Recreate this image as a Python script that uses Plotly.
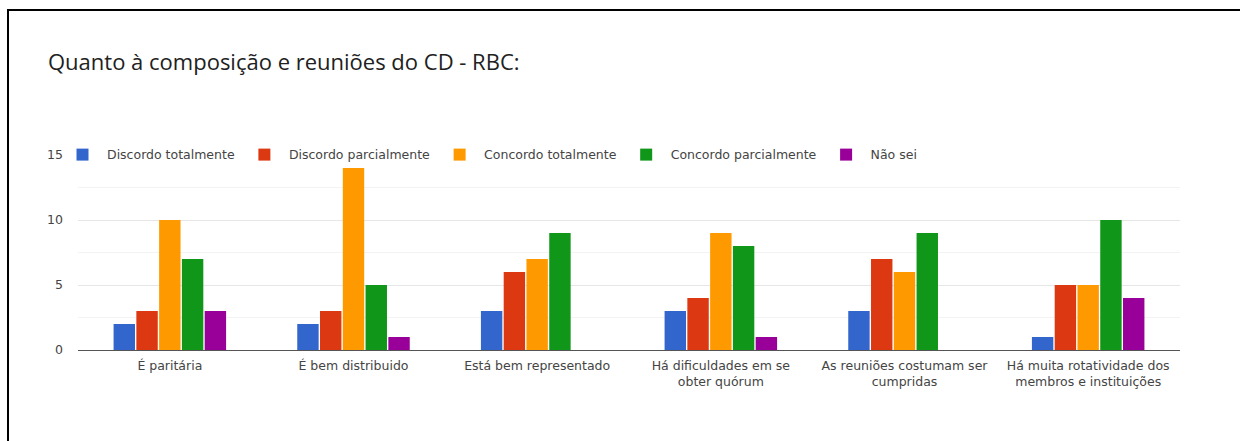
import plotly.graph_objects as go

categories = [
    "É paritária",
    "É bem distribuido",
    "Está bem representado",
    "Há dificuldades em se<br>obter quórum",
    "As reuniões costumam ser<br>cumpridas",
    "Há muita rotatividade dos<br>membros e instituições",
]
series_names = [
    "Discordo totalmente",
    "Discordo parcialmente",
    "Concordo totalmente",
    "Concordo parcialmente",
    "Não sei",
]
discordo_totalmente = [2, 2, 3, 3, 3, 1]
discordo_parcialmente = [3, 3, 6, 4, 7, 5]
concordo_totalmente = [10, 14, 7, 9, 6, 5]
concordo_parcialmente = [7, 5, 9, 8, 9, 10]
nao_sei = [3, 1, 0, 1, 0, 4]
y_ticks = [0, 5, 10, 15]

series_values = [
    discordo_totalmente,
    discordo_parcialmente,
    concordo_totalmente,
    concordo_parcialmente,
    nao_sei,
]
colors = ["#3366cc", "#dc3912", "#ff9900", "#109618", "#990099"]

W, H = 1240, 441
ML, MR, MT, MB = 78, 60, 155, 91
PW, PH = W - ML - MR, H - MT - MB

TEXT_FONT = "DejaVu Sans, Liberation Sans, Arial, sans-serif"
TEXT_SIZE = 12.5

fig = go.Figure()
for name, vals, col in zip(series_names, series_values, colors):
    fig.add_trace(go.Bar(
        name=name, x=categories, y=vals,
        marker=dict(color=col, line=dict(width=0)),
    ))


def px_x(px):
    return (px - ML) / PW


def px_y(py):
    return (H - MB - py) / PH


# outer frame: top and left edges
frame = dict(color="#000000", width=2)
fig.add_shape(type="line", xref="paper", yref="paper",
              x0=px_x(7), x1=px_x(W + 5), y0=px_y(10), y1=px_y(10), line=frame)
fig.add_shape(type="line", xref="paper", yref="paper",
              x0=px_x(8), x1=px_x(8), y0=px_y(10), y1=px_y(H + 5), line=frame)

fig.update_layout(
    width=W, height=H,
    margin=dict(l=ML, r=MR, t=MT, b=MB, pad=0),
    paper_bgcolor="white", plot_bgcolor="white",
    barmode="group", bargap=0.38, bargroupgap=0.06,
    font=dict(family=TEXT_FONT, size=TEXT_SIZE, color="#444444"),
    title=dict(
        text="Quanto à composição e reuniões do CD - RBC:",
        x=48 / W, xanchor="left", y=1 - 62 / H, yanchor="middle",
        font=dict(family="Open Sans, Roboto, sans-serif", size=22, color="#212121"),
    ),
    legend=dict(
        orientation="h", x=px_x(58), xanchor="left", y=px_y(155) + 0.0001,
        yanchor="middle", itemwidth=39,
        bgcolor="rgba(0,0,0,0)",
        font=dict(family=TEXT_FONT, size=TEXT_SIZE, color="#444444"),
        traceorder="normal",
    ),
    showlegend=True,
)
fig.update_xaxes(
    showgrid=False, showline=False, ticks="", ticklabelstandoff=6,
    tickfont=dict(family=TEXT_FONT, size=TEXT_SIZE, color="#444444"),
    automargin=False,
)
fig.update_yaxes(
    range=[0, 15], tickvals=y_ticks, showgrid=True, gridcolor="#e6e6e6", gridwidth=1,
    zeroline=True, zerolinecolor="#555555", zerolinewidth=1,
    minor=dict(dtick=2.5, showgrid=True, gridcolor="#f3f3f3", gridwidth=1),
    ticks="", ticklabelstandoff=14,
    tickfont=dict(family=TEXT_FONT, size=TEXT_SIZE, color="#444444"),
    automargin=False, fixedrange=True,
)

fig.write_html("out.html")
